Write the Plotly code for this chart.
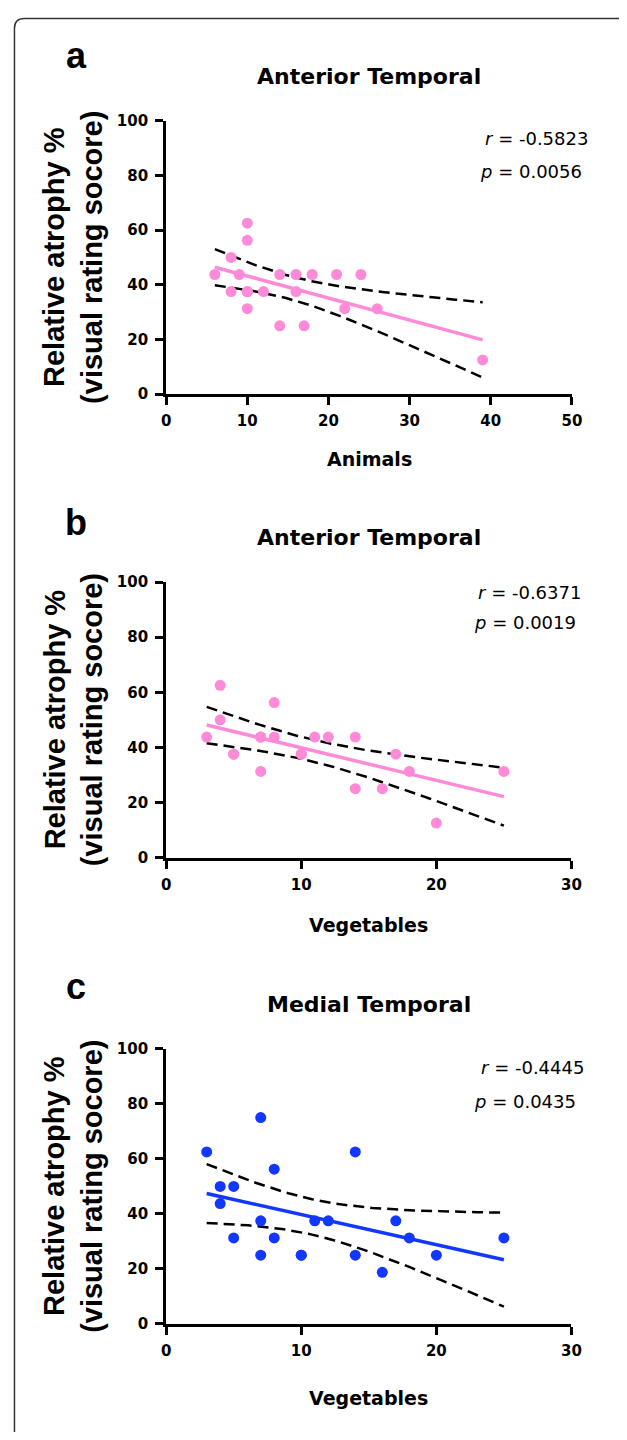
import numpy as np
import plotly.graph_objects as go

PAGE_W, PAGE_H = 627, 1440
BODY_MARGIN = 8  # default browser body margin
W, H = PAGE_W - 2 * BODY_MARGIN, PAGE_H - 2 * BODY_MARGIN

# ---------------- data ----------------
animals_x = [6, 8, 8, 9, 10, 10, 10, 10, 10, 12, 14, 14, 16, 16, 17, 18, 21, 22, 24, 26, 39]
anterior_a_y = [43.75, 50, 37.5, 43.75, 62.5, 56.25, 37.5, 37.5, 31.25, 37.5, 43.75, 25,
                43.75, 37.5, 25, 43.75, 43.75, 31.25, 43.75, 31.25, 12.5]

veg_b_x = [3, 4, 4, 5, 5, 7, 7, 7, 8, 8, 10, 10, 11, 12, 14, 14, 16, 17, 18, 20, 25]
anterior_b_y = [43.75, 62.5, 50, 37.5, 37.5, 43.75, 43.75, 31.25, 56.25, 43.75, 37.5, 37.5,
                43.75, 43.75, 43.75, 25, 25, 37.5, 31.25, 12.5, 31.25]

veg_c_x = [3, 4, 4, 5, 5, 7, 7, 7, 8, 8, 10, 10, 11, 12, 14, 14, 16, 17, 18, 20, 25]
medial_c_y = [62.5, 50, 43.75, 50, 31.25, 75, 37.5, 25, 56.25, 31.25, 25, 25, 37.5, 37.5,
              62.5, 25, 18.75, 37.5, 31.25, 25, 31.25]

panel_letters = ["a", "b", "c"]
panel_titles = ["Anterior Temporal", "Anterior Temporal", "Medial Temporal"]
x_titles = ["Animals", "Vegetables", "Vegetables"]
r_texts = ["-0.5823", "-0.6371", "-0.4445"]
p_texts = ["0.0056", "0.0019", "0.0435"]
x_max = [50, 30, 30]
y_ticks = [0, 20, 40, 60, 80, 100]
T_CRIT = 2.093  # t(0.975, df=19)

PINK = "#FF8AD8"
BLUE = "#1238FF"
colors = [PINK, PINK, BLUE]

datasets = [(animals_x, anterior_a_y), (veg_b_x, anterior_b_y), (veg_c_x, medial_c_y)]

# ---------------- layout geometry (page pixels) ----------------
x_left_px = 165
x_right_px = [581, 580.5, 580.5]
y_top_px = [113, 580.3, 1053]
y_bot_px = [390, 859.3, 1331.7]
title_y = [68, 535, 1008]
letter_y = [47, 520, 990]
xtitle_y = [456, 928, 1407]
r_pos = [(600, 131), (592, 591), (595, 1072)]
p_pos = [(593, 164), (587, 621), (587, 1106)]


def fx(px):
    return (px - BODY_MARGIN) / W


def fy(py):
    return 1 - (py - BODY_MARGIN) / H


fig = go.Figure()
annotations = []
layout_axes = {}

for i, (xs, ys) in enumerate(datasets):
    xs = np.array(xs, dtype=float)
    ys = np.array(ys, dtype=float)
    n = len(xs)
    xa = "x" if i == 0 else f"x{i+1}"
    ya = "y" if i == 0 else f"y{i+1}"

    slope, intercept = np.polyfit(xs, ys, 1)
    resid = ys - (slope * xs + intercept)
    s = np.sqrt(np.sum(resid ** 2) / (n - 2))
    xbar = xs.mean()
    sxx = np.sum((xs - xbar) ** 2)
    grid = np.linspace(xs.min(), xs.max(), 80)
    fit = slope * grid + intercept
    half = T_CRIT * s * np.sqrt(1.0 / n + (grid - xbar) ** 2 / sxx)

    for band in (fit + half, fit - half):
        fig.add_trace(go.Scatter(x=grid, y=band, mode="lines", xaxis=xa, yaxis=ya,
                                 line=dict(color="black", width=2.5, dash="11px,6px"),
                                 showlegend=False, hoverinfo="skip"))
    fig.add_trace(go.Scatter(x=grid, y=fit, mode="lines", xaxis=xa, yaxis=ya,
                             line=dict(color=colors[i], width=3.5),
                             showlegend=False, hoverinfo="skip"))
    fig.add_trace(go.Scatter(x=xs, y=ys, mode="markers", xaxis=xa, yaxis=ya,
                             marker=dict(color=colors[i], size=11, line=dict(width=0)),
                             showlegend=False))

    key_x = "xaxis" if i == 0 else f"xaxis{i+1}"
    key_y = "yaxis" if i == 0 else f"yaxis{i+1}"
    layout_axes[key_x] = dict(
        domain=[fx(x_left_px), fx(x_right_px[i])], range=[0, x_max[i]], anchor=ya,
        tick0=0, dtick=10, showline=True, linecolor="black", linewidth=3,
        ticks="outside", ticklen=8, tickwidth=3, tickcolor="black",
        showgrid=False, zeroline=False, ticklabelstandoff=3,
        tickfont=dict(family="DejaVu Sans", size=15, color="black", weight="bold"),
    )
    layout_axes[key_y] = dict(
        domain=[fy(y_bot_px[i]), fy(y_top_px[i])], range=[0, 100], anchor=xa,
        tickvals=y_ticks, showline=True, linecolor="black", linewidth=3,
        ticks="outside", ticklen=8, tickwidth=3, tickcolor="black",
        showgrid=False, zeroline=False, ticklabelstandoff=4,
        tickfont=dict(family="DejaVu Sans", size=15, color="black", weight="bold"),
    )

    cx = fx((x_left_px + x_right_px[i]) / 2)
    # panel letter
    annotations.append(dict(text=panel_letters[i], x=fx(73), y=fy(letter_y[i]),
                            xref="paper", yref="paper", xanchor="center", yanchor="middle",
                            showarrow=False,
                            font=dict(family="Liberation Sans", size=36, color="black", weight="bold")))
    # title
    annotations.append(dict(text=panel_titles[i], x=cx, y=fy(title_y[i]),
                            xref="paper", yref="paper", xanchor="center", yanchor="middle",
                            showarrow=False,
                            font=dict(family="DejaVu Sans", size=22, color="black", weight="bold")))
    # x title
    annotations.append(dict(text=x_titles[i], x=cx, y=fy(xtitle_y[i]),
                            xref="paper", yref="paper", xanchor="center", yanchor="middle",
                            showarrow=False,
                            font=dict(family="DejaVu Sans", size=19, color="black", weight="bold")))
    # y title
    annotations.append(dict(text="Relative atrophy %<br>(visual rating socore)",
                            x=fx(70), y=fy((y_top_px[i] + y_bot_px[i]) / 2),
                            xref="paper", yref="paper", xanchor="center", yanchor="middle",
                            textangle=-90, showarrow=False,
                            font=dict(family="Liberation Sans", size=29, color="black", weight="bold")))
    # statistics
    annotations.append(dict(text=f"<i>r</i> = {r_texts[i]}", x=fx(r_pos[i][0]), y=fy(r_pos[i][1]),
                            xref="paper", yref="paper", xanchor="right", yanchor="middle",
                            showarrow=False,
                            font=dict(family="DejaVu Sans", size=18, color="black")))
    annotations.append(dict(text=f"<i>p</i> = {p_texts[i]}", x=fx(p_pos[i][0]), y=fy(p_pos[i][1]),
                            xref="paper", yref="paper", xanchor="right", yanchor="middle",
                            showarrow=False,
                            font=dict(family="DejaVu Sans", size=18, color="black")))

# rounded frame (top-left corner)
x0, y0, rad = 9.5, 9.5, 10
path = (f"M {fx(x0)},{fy(PAGE_H + 10)} L {fx(x0)},{fy(y0 + rad)} "
        f"Q {fx(x0)},{fy(y0)} {fx(x0 + rad)},{fy(y0)} L {fx(PAGE_W + 10)},{fy(y0)}")
shapes = [dict(type="path", path=path, xref="paper", yref="paper",
               line=dict(color="#333333", width=1.5))]

fig.update_layout(
    width=W, height=H,
    margin=dict(l=0, r=0, t=0, b=0),
    paper_bgcolor="white", plot_bgcolor="white",
    showlegend=False,
    annotations=annotations,
    shapes=shapes,
    **layout_axes,
)

fig.write_html("out.html", config={"displayModeBar": False})
